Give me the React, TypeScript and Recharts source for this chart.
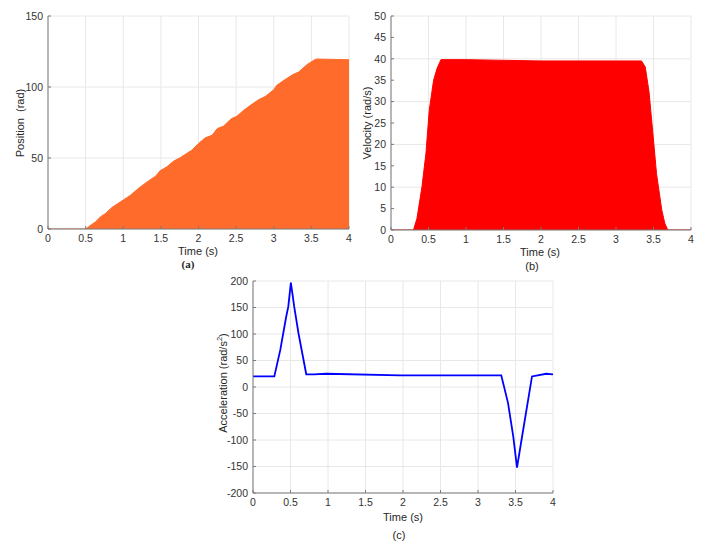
import React from "react";
import { ComposedChart, Area, Line, XAxis, YAxis, CartesianGrid } from "recharts";

const timeTicks = [0, 0.5, 1, 1.5, 2, 2.5, 3, 3.5, 4];
const positionTicks = [0, 50, 100, 150];
const velocityTicks = [0, 5, 10, 15, 20, 25, 30, 35, 40, 45, 50];
const accelTicks = [-200, -150, -100, -50, 0, 50, 100, 150, 200];

// (a) position
const positionTime = [0, 0.5, 0.55, 0.63, 0.7, 0.765, 0.85, 1.0, 1.1, 1.2, 1.32, 1.43, 1.49, 1.58, 1.67, 1.76, 1.91, 2.0, 2.09, 2.18, 2.25, 2.33, 2.44, 2.51, 2.6, 2.69, 2.8, 2.89, 3.0, 3.04, 3.15, 3.26, 3.33, 3.44, 3.55, 3.57, 4];
const positionValue = [0, 0, 2, 5, 8.7, 11, 15.2, 20.4, 23.9, 28.5, 33.3, 37.2, 41, 43.8, 47.8, 50.3, 55.5, 60.2, 64.2, 66, 70.7, 72.4, 77.8, 79.4, 83.6, 87.1, 91.1, 93.4, 98.1, 101.2, 105.2, 108.9, 110.5, 115.7, 119.4, 119.7, 119.2];

// (b) velocity
const velocityTime = [0, 0.3, 0.346, 0.413, 0.466, 0.51, 0.568, 0.613, 0.666, 1.0, 2.0, 3.34, 3.39, 3.44, 3.5, 3.54, 3.61, 3.65, 3.69, 4];
const velocityValue = [0, 0, 2.7, 10.1, 17.9, 28, 35, 37.7, 39.8, 39.8, 39.5, 39.5, 38.1, 32.3, 21, 13.2, 4.7, 1.6, 0, 0];

// (c) acceleration
const accelTime = [0, 0.284, 0.364, 0.443, 0.47, 0.505, 0.55, 0.607, 0.71, 0.807, 0.98, 1.96, 3.31, 3.4, 3.47, 3.52, 3.58, 3.72, 3.91, 4];
const accelValue = [20, 20, 70, 133, 151, 197, 151, 101, 24, 24, 25, 22, 22, -30, -93, -152, -100, 20, 25, 24];

const toRows = (ts: number[], vs: number[]) => ts.map((t, i) => ({ t, v: vs[i] }));

const AXIS = "#7a7a7a";
const GRID = "#e8e8e8";
const tickStyle = { fontSize: 10.5, fill: "#333", fontFamily: "Liberation Sans, Arial, sans-serif" };

type PanelProps = {
  left: number;
  top: number;
  width: number;
  height: number;
  margin: { top: number; right: number; left: number; bottom: number };
  data: { t: number; v: number }[];
  yTicks: number[];
  color: string;
  kind: "area" | "line";
};

function Panel({ left, top, width, height, margin, data, yTicks, color, kind }: PanelProps) {
  const yDomain = [yTicks[0], yTicks[yTicks.length - 1]];
  return (
    <div style={{ position: "absolute", left, top }}>
      <ComposedChart width={width} height={height} data={data} margin={margin}>
        <CartesianGrid stroke={GRID} horizontalValues={yTicks} verticalValues={timeTicks} />
        <XAxis
          dataKey="t"
          type="number"
          domain={[0, 4]}
          ticks={timeTicks}
          height={20}
          stroke={AXIS}
          tickSize={-3}
          tickMargin={9}
          tick={tickStyle}
          allowDataOverflow
        />
        <XAxis xAxisId="top" orientation="top" type="number" domain={[0, 4]} ticks={timeTicks} height={0} stroke={AXIS} tick={false} tickLine={false} />
        <YAxis
          type="number"
          domain={yDomain}
          ticks={yTicks}
          width={48}
          stroke={AXIS}
          tickSize={-3}
          tickMargin={8}
          tick={tickStyle}
          allowDataOverflow
        />
        <YAxis yAxisId="right" orientation="right" type="number" domain={yDomain} ticks={yTicks} width={0} stroke={AXIS} tick={false} tickLine={false} />
        {kind === "area" ? (
          <Area
            type="linear"
            dataKey="v"
            stroke={color}
            strokeWidth={1}
            fill={color}
            fillOpacity={1}
            isAnimationActive={false}
            dot={false}
            activeDot={false}
          />
        ) : (
          <Line type="linear" dataKey="v" stroke={color} strokeWidth={1.8} dot={false} activeDot={false} isAnimationActive={false} />
        )}
      </ComposedChart>
    </div>
  );
}

const textBase: React.CSSProperties = {
  position: "absolute",
  fontFamily: "Liberation Sans, Arial, sans-serif",
  fontSize: 11,
  color: "#262626",
  whiteSpace: "nowrap",
};

function Label({ x, y, rotate, serif, children }: { x: number; y: number; rotate?: boolean; serif?: boolean; children: React.ReactNode }) {
  return (
    <div
      style={{
        ...textBase,
        left: x,
        top: y,
        fontFamily: serif ? "Liberation Serif, serif" : textBase.fontFamily,
        fontWeight: serif ? "bold" : "normal",
        transform: `translate(-50%, -50%)${rotate ? " rotate(-90deg)" : ""}`,
      }}
    >
      {children}
    </div>
  );
}

export default function App() {
  return (
    <div style={{ position: "absolute", left: 0, top: 0, width: 706, height: 547, background: "#fff", overflow: "hidden" }}>
      <Panel
        left={0}
        top={0}
        width={360}
        height={275}
        margin={{ top: 16, right: 11, left: 0, bottom: 26 }}
        data={toRows(positionTime, positionValue)}
        yTicks={positionTicks}
        color="#FF6B2B"
        kind="area"
      />
      <Panel
        left={343}
        top={0}
        width={360}
        height={275}
        margin={{ top: 16, right: 12, left: 0, bottom: 25 }}
        data={toRows(velocityTime, velocityValue)}
        yTicks={velocityTicks}
        color="#FF0000"
        kind="area"
      />
      <Panel
        left={205}
        top={265}
        width={360}
        height={282}
        margin={{ top: 16, right: 12, left: 0, bottom: 34 }}
        data={toRows(accelTime, accelValue)}
        yTicks={accelTicks}
        color="#0000FF"
        kind="line"
      />

      <Label x={20} y={123} rotate>Position&nbsp;&nbsp;(rad)</Label>
      <Label x={198} y={251}>Time (s)</Label>
      <Label x={188} y={264} serif>(a)</Label>

      <Label x={367} y={123} rotate>Velocity (rad/s)</Label>
      <Label x={540} y={252}>Time (s)</Label>
      <Label x={532} y={266}>(b)</Label>

      <Label x={222} y={383} rotate>
        Acceleration (rad/s<sup style={{ fontSize: 7.5 }}>2</sup>)
      </Label>
      <Label x={403} y={517}>Time (s)</Label>
      <Label x={399} y={535}>(c)</Label>
    </div>
  );
}
